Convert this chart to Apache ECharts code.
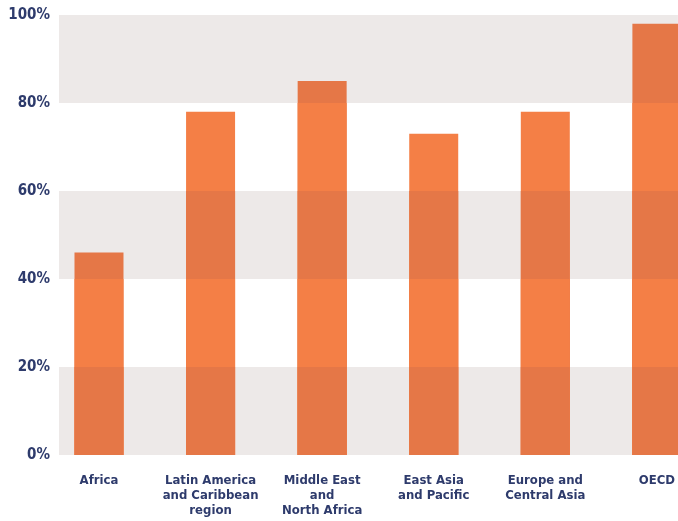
<!DOCTYPE html>
<html><head><meta charset="utf-8">
<script src="https://cdn.jsdelivr.net/npm/echarts@6/dist/echarts.min.js"></script>
<style>html,body{margin:0;padding:0;background:#fff}#c{width:678px;height:521px}</style>
</head><body><div id="c"></div>
<script>
const categories = ['Africa', 'Latin America\nand Caribbean\nregion', 'Middle East\nand\nNorth Africa', 'East Asia\nand Pacific', 'Europe and\nCentral Asia', 'OECD'];
const values = [46, 78, 85, 73, 78, 98];
const yTicks = [0, 20, 40, 60, 80, 100];

const FONT = '"DejaVu Sans Condensed", "Liberation Sans Narrow", sans-serif';
const TXT = '#2e3b6c';
const DARK = '#e57747';
const LIGHT = '#f47f46';

// each bar is drawn as overlapping layers, one per background band,
// so the part over the grey bands looks darker
const bands = [];
for (let i = 0; i < yTicks.length - 1; i++) bands.push([yTicks[i], yTicks[i + 1]]);
const series = bands.map((b, i) => ({
  type: 'bar', barWidth: 49, barGap: '-100%',
  itemStyle: { color: i % 2 === 0 ? DARK : LIGHT },
  data: values.map((v, k) => [k, v > b[0] ? Math.min(v, b[1]) : '-']),
  silent: true
})).reverse();

const catIdx = categories.map((c, i) => i);
const chart = echarts.init(document.getElementById('c'));
chart.setOption({
  animation: false,
  grid: { left: 59, right: 0, top: 15, bottom: 66 },
  xAxis: {
    type: 'value', min: -0.3584, max: 5.1882,
    axisLine: { show: false }, axisTick: { show: false }, splitLine: { show: false },
    axisLabel: { customValues: catIdx, formatter: v => categories[Math.round(v)], margin: 18,
      color: TXT, fontFamily: FONT, fontWeight: 'bold', fontSize: 13, lineHeight: 15 }
  },
  yAxis: {
    type: 'value', min: 0, max: 100, interval: 20,
    axisLine: { show: false }, axisTick: { show: false }, splitLine: { show: false },
    splitArea: { show: true, areaStyle: { color: ['#ede9e8', '#ffffff'] } },
    axisLabel: { formatter: '{value}%', margin: 9, color: TXT, fontFamily: FONT, fontWeight: 'bold', fontSize: 15 }
  },
  series: series
});
</script></body></html>
